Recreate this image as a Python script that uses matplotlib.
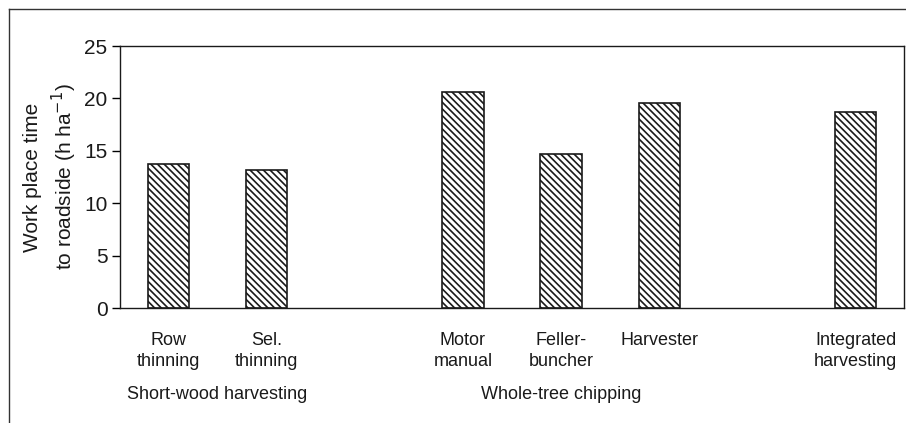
import matplotlib
matplotlib.use("Agg")
import matplotlib.pyplot as plt
from matplotlib.lines import Line2D

plt.rcParams['font.family'] = ['Liberation Sans', 'DejaVu Sans']
plt.rcParams['hatch.linewidth'] = 1.2

categories = ["Row\nthinning", "Sel.\nthinning", "Motor\nmanual", "Feller-\nbuncher",
              "Harvester", "Integrated\nharvesting"]
positions = [0, 1, 3, 4, 5, 7]
values = [13.7, 13.15, 20.6, 14.7, 19.6, 18.7]
groups = ["Short-wood harvesting", "Whole-tree chipping"]
group_centers = [0.5, 4.0]
yticks = [0, 5, 10, 15, 20, 25]

ink = '#1a1a1a'
fig = plt.figure(figsize=(9.06, 4.23), dpi=100)
ax = fig.add_axes([120/906, 1 - 308/423, (904-120)/906, (308-46)/423])

ax.bar(positions, values, width=0.42, facecolor='white', edgecolor=ink,
       linewidth=1.2, hatch='\\\\\\\\\\')

ax.set_xlim(-0.49, 7.49)
ax.set_ylim(0, 25)
ax.set_yticks(yticks)
ax.set_yticklabels([str(t) for t in yticks], fontsize=15, color=ink)
ax.set_xticks(positions)
ax.set_xticklabels(categories, fontsize=13, color=ink, va='top', linespacing=1.3)
ax.tick_params(axis='x', length=0, pad=17)
ax.tick_params(axis='y', direction='out', length=6, width=1.0, pad=3)
for s in ax.spines.values():
    s.set_linewidth(1.0)
    s.set_color(ink)

ax.set_ylabel("Work place time\nto roadside (h ha$^{-1}$)", fontsize=15, color=ink,
              linespacing=1.35, labelpad=4)

for g, c in zip(groups, group_centers):
    ax.text(c, -0.33, g, transform=ax.get_xaxis_transform(), ha='center', va='center',
            fontsize=13, color=ink)

# outer frame
fig.add_artist(Line2D([9/906, 9/906], [0, 1 - 9/423], transform=fig.transFigure,
                      color='#333333', linewidth=1.0))
fig.add_artist(Line2D([9/906, 1], [1 - 9/423, 1 - 9/423], transform=fig.transFigure,
                      color='#333333', linewidth=1.0))

fig.savefig("out.png", dpi=100)
